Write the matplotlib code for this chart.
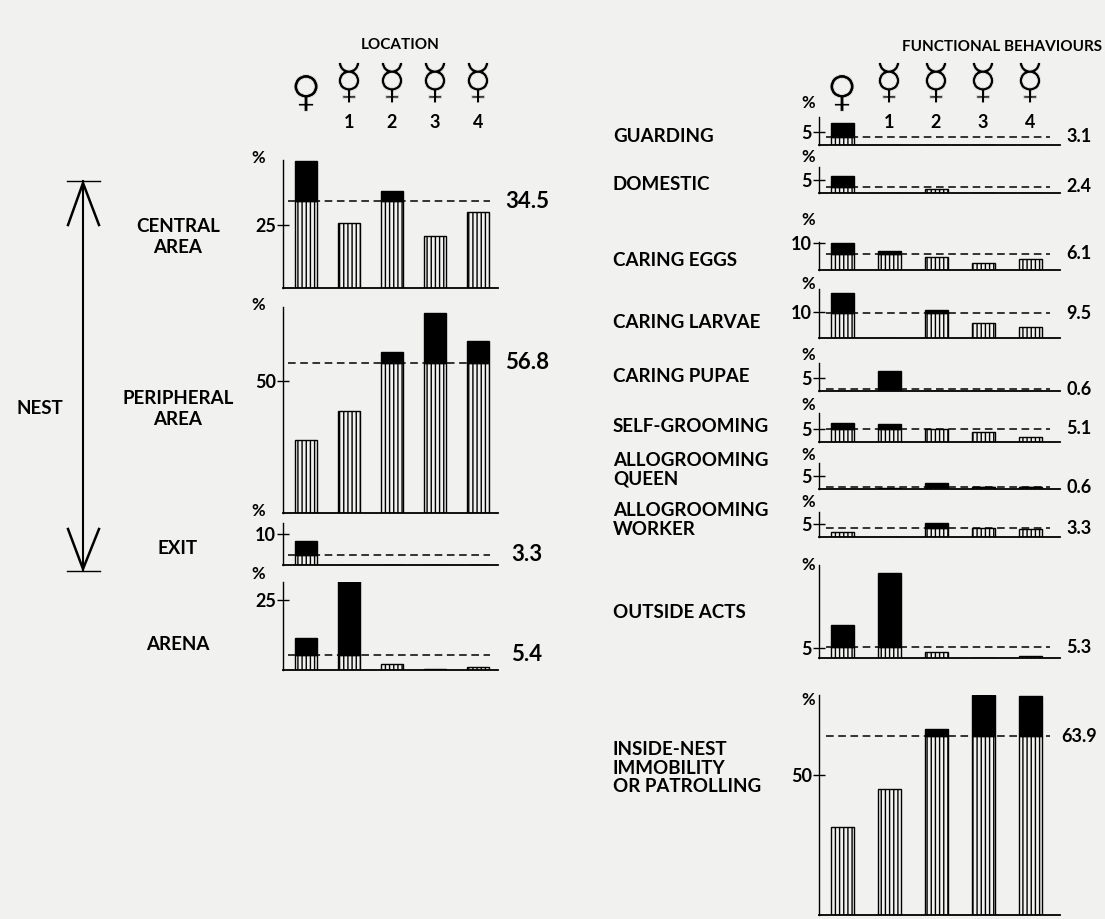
import numpy as np
import matplotlib.pyplot as plt
import matplotlib.patheffects as pe
from matplotlib.lines import Line2D

W, H = 1105, 919
bg = '#f1f1ef'
lab_font = 'Lato'
sym_font = ['DejaVu Sans']

castes = ['\u2640', '\u263F', '\u263F', '\u263F', '\u263F']
worker_nums = ['1', '2', '3', '4']

# LOCATION (% of time), queen then workers 1-4
loc_names = ['CENTRAL\nAREA', 'PERIPHERAL\nAREA', 'EXIT', 'ARENA']
central_area = [50.8, 25.8, 38.5, 20.6, 30.2]
peripheral_area = [27.6, 38.6, 61.0, 75.8, 65.2]
exit_area = [7.7, 0, 0, 0, 0]
arena = [11.4, 32.1, 2.1, 0.3, 1.1]
loc_means = [34.5, 56.8, 3.3, 5.4]
loc_ticks = [25, 50, 10, 25]

# FUNCTIONAL BEHAVIOURS (% of acts)
beh_names = ['GUARDING', 'DOMESTIC', 'CARING EGGS', 'CARING LARVAE', 'CARING PUPAE',
             'SELF-GROOMING', 'ALLOGROOMING\nQUEEN', 'ALLOGROOMING\nWORKER',
             'OUTSIDE ACTS', 'INSIDE-NEST\nIMMOBILITY\nOR PATROLLING']
guarding = [8.5, 0, 0, 0, 0]
domestic = [6.5, 0, 1.5, 0, 0]
caring_eggs = [10.0, 7.0, 4.8, 2.6, 4.1]
caring_larvae = [17.3, 0, 10.8, 5.8, 4.2]
caring_pupae = [0, 7.7, 0, 0, 0]
self_grooming = [7.3, 6.9, 5.0, 3.8, 1.9]
allo_queen = [0, 0.4, 2.3, 0.9, 0.8]
allo_worker = [1.9, 0, 5.4, 3.3, 3.0]
outside_acts = [16.5, 42.5, 3.0, 0, 1.0]
inside_nest = [31.4, 45.0, 66.4, 78.6, 78.2]
beh_means = [3.1, 2.4, 6.1, 9.5, 0.6, 5.1, 0.6, 3.3, 5.3, 63.9]
beh_ticks = [5, 5, 10, 10, 5, 5, 5, 5, 5, 50]

loc_values = [central_area, peripheral_area, exit_area, arena]
beh_values = [guarding, domestic, caring_eggs, caring_larvae, caring_pupae,
              self_grooming, allo_queen, allo_worker, outside_acts, inside_nest]

# layout: (baseline px, top px, ymax, label y px, % offset px)
loc_layout = [(288, 160, 51, 237, 2), (513, 307, 78, 409, 2),
              (565, 523, 13.5, 548, 12), (670, 582, 31.4, 644, 8)]
beh_layout = [(145, 117, 10.8, 136, 14), (193, 167, 10, 185, 10),
              (270, 242, 10.4, 260, 22), (338, 289, 18.8, 322, 5),
              (391, 363, 10.8, 376, 8), (442, 413, 11.2, 426, 8),
              (489, 463, 10, 470, 8), (537, 512, 9.6, 520, 10),
              (658, 565, 46.5, 612, 0), (915, 695, 78.6, 768, -5)]

fig = plt.figure(figsize=(W / 100, H / 100), dpi=100, facecolor=bg)
ov = fig.add_axes([0, 0, 1, 1])
ov.set_xlim(0, W)
ov.set_ylim(H, 0)
ov.axis('off')


def panel(x0, x1, c0, step, width, ybase, ytop, ymax, vals, mean, tick,
          dash_x, label_x, label_size):
    ax = fig.add_axes([x0 / W, 1 - ybase / H, (x1 - x0) / W, (ybase - ytop) / H])
    ax.set_facecolor('none')
    ax.set_xlim((x0 - c0) / step, (x1 - c0) / step)
    ax.set_ylim(0, ymax)
    vals = np.array(vals, dtype=float)
    x = np.arange(len(vals))
    low = np.minimum(vals, mean)
    high = np.maximum(vals - mean, 0)
    ax.hlines(mean, (dash_x[0] - c0) / step, (dash_x[1] - c0) / step, colors='k',
              linestyles=(0, (5, 3)), lw=1.1, zorder=1)
    ax.bar(x, low, width / step, facecolor=bg, edgecolor='k', hatch='||||', lw=1,
           zorder=2)
    m = high > 0
    ax.bar(x[m], high[m], width / step, bottom=low[m], color='k', edgecolor='k',
           lw=1, zorder=3)
    for s in ['top', 'right']:
        ax.spines[s].set_visible(False)
    ax.spines['left'].set_linewidth(1)
    ax.spines['bottom'].set_linewidth(1.3)
    ax.set_xticks([])
    ax.set_yticks([tick])
    ax.tick_params(axis='y', direction='inout', length=8, width=1, pad=1,
                   labelsize=13)
    for t in ax.get_yticklabels():
        t.set_fontfamily(lab_font)
        t.set_fontweight('bold')
    ax.text((label_x - x0) / (x1 - x0), mean, f'{mean}', transform=ax.get_yaxis_transform(),
            ha='center', va='center', fontsize=label_size, fontfamily=lab_font,
            fontweight='bold')
    return ax


# left block
for vals, mean, tick, name, (yb, yt, ymax, ly, po) in zip(loc_values, loc_means, loc_ticks,
                                                          loc_names, loc_layout):
    panel(283, 498, 306, 43, 22, yb, yt, ymax, vals, mean, tick, (288, 490), 527, 16)
    ov.text(178, ly, name, ha='center', va='center', fontsize=13.5, fontfamily=lab_font,
            fontweight='bold', linespacing=1.25)
    ov.text(258, yt - po, '%', ha='center', va='center', fontsize=12,
            fontfamily=lab_font, fontweight='bold')

# right block
for vals, mean, tick, name, (yb, yt, ymax, ly, po) in zip(beh_values, beh_means, beh_ticks,
                                                          beh_names, beh_layout):
    panel(819, 1060, 842, 47, 23, yb, yt, ymax, vals, mean, tick, (826, 1050), 1079, 13)
    ov.text(613, ly, name, ha='left', va='center', fontsize=13.5, fontfamily=lab_font,
            fontweight='bold', linespacing=1.1)
    ov.text(808, yt - po, '%', ha='center', va='center', fontsize=12,
            fontfamily=lab_font, fontweight='bold')

# caste symbols (slightly thinned strokes)
thin = [pe.Normal(), pe.Stroke(linewidth=0.7, foreground=bg)]
for c0, step, ysym in [(306, 43, 84), (842, 47, 84)]:
    for i, s in enumerate(castes):
        ov.text(c0 + step * i, ysym + (10 if i == 0 else 0), s, ha='center', va='center',
                fontsize=31 if i == 0 else 35, family=sym_font, path_effects=thin)
    for i, n in enumerate(worker_nums):
        ov.text(c0 + step * (i + 1), 123, n, ha='center', va='center', fontsize=13,
                fontfamily=lab_font, fontweight='bold')

ov.text(400, 45, 'LOCATION', ha='center', va='center', fontsize=11,
        fontfamily=lab_font, fontweight='bold')
ov.text(1002, 47, 'FUNCTIONAL BEHAVIOURS', ha='center', va='center', fontsize=11,
        fontfamily=lab_font, fontweight='bold')

# nest arrow
ov.add_line(Line2D([83, 83], [181, 571], color='k', lw=1.5))
ov.add_line(Line2D([67, 100], [181, 181], color='k', lw=1))
ov.add_line(Line2D([67, 100], [571, 571], color='k', lw=1))
ov.add_line(Line2D([68, 83, 99], [225, 183, 225], color='k', lw=1.8))
ov.add_line(Line2D([68, 83, 99], [529, 569, 529], color='k', lw=1.8))
ov.text(40, 408, 'NEST', ha='center', va='center', fontsize=13.5, fontfamily=lab_font,
        fontweight='bold')

plt.savefig('out.png', dpi=100, facecolor=bg)
